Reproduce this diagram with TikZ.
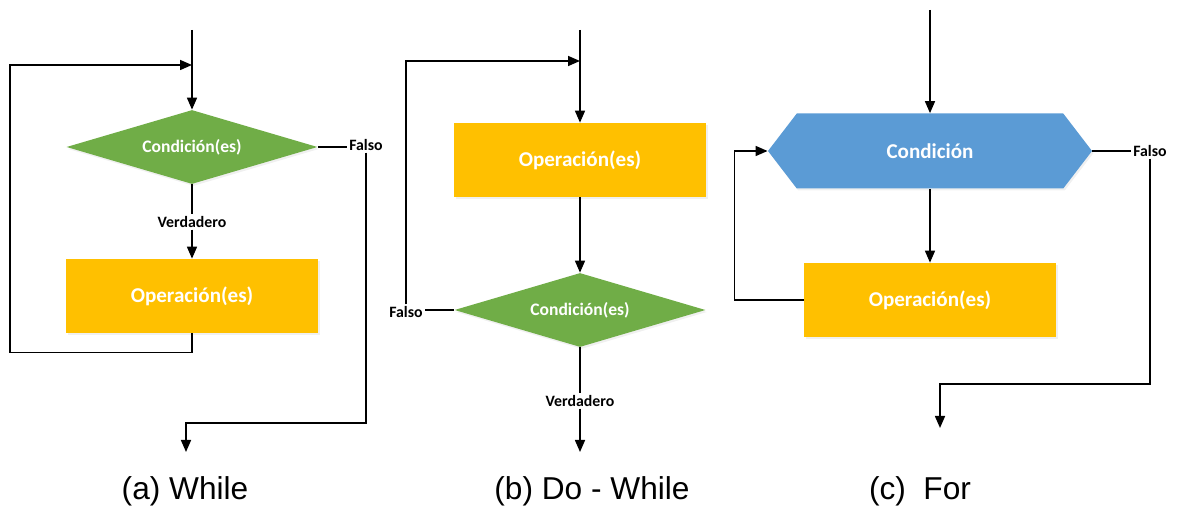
\documentclass[tikz,border=0pt]{standalone}
\usepackage{fontspec}
\setmainfont{Liberation Sans}
\newfontfamily\calibri{Carlito}
\usetikzlibrary{arrows.meta,shapes.geometric,shapes.symbols,shadows}
\definecolor{cgreen}{HTML}{70AD47}
\definecolor{cyellow}{HTML}{FFC000}
\definecolor{cblue}{HTML}{5B9BD5}
\tikzset{
  line/.style={line width=0.9pt},
  flow/.style={line width=0.9pt, -{Triangle[length=0.24cm,width=0.2cm]}},
  soft/.style={drop shadow={opacity=0.12, shadow xshift=0.03cm, shadow yshift=-0.04cm}},
  opbox/.style={rectangle, fill=cyellow, soft, minimum width=5.04cm, minimum height=1.48cm,
    text=white, font=\calibri\bfseries\fontsize{12}{14}\selectfont},
  cond/.style={diamond, aspect=3.39, fill=cgreen, soft, inner sep=0pt, minimum width=5.02cm, minimum height=1.48cm,
    text=white, font=\calibri\bfseries\fontsize{10}{12}\selectfont},
  hexa/.style={signal, signal to=east and west, signal pointer angle=105, fill=cblue, soft,
    minimum width=6.48cm, minimum height=1.5cm,
    text=white, font=\calibri\bfseries\fontsize{12}{14}\selectfont},
  tag/.style={inner sep=1pt, font=\calibri\bfseries\fontsize{9}{11}\selectfont},
  subcap/.style={font=\fontsize{18}{20}\selectfont}
}
\begin{document}
\begin{tikzpicture}
    \useasboundingbox (0,0) rectangle (23.58,10.16);
    % (a) while
    \begin{scope}
      \node[cond] (c1) at (3.84,7.22) {Condición(es)};
      \node[tag] (v1) at (3.84,5.72) {Verdadero};
      \node[opbox] (o1) at (3.84,4.24) {Operación(es)};
      \node[tag] (f1) at (7.32,7.26) {Falso};
      \coordinate (a1) at (3.84,9.56);
      \coordinate (j1) at (3.84,8.86);
      \coordinate (e1) at (3.72,1.12);
      \draw[flow] (a1) -- (c1.north);
      \draw[line] (c1.south) -- (v1.north);
      \draw[flow] (v1.south) -- (o1.north);
      \draw[flow] (o1.south) -- ++(0,-0.38) -| (0.2,8.86) -- (j1);
      \draw[line] (c1.east) -- (c1.east -| f1.west);
      \draw[flow] (f1.south) -- (f1.south |- 0,1.70) -| (e1);
      \node[subcap] (s1) at (3.7,0.34) {(a) While};
    \end{scope}
    % (b) do - while
    \begin{scope}
      \node[opbox] (o2) at (11.6,6.96) {Operación(es)};
      \node[cond] (c2) at (11.6,3.96) {Condición(es)};
      \node[tag] (f2) at (8.12,3.92) {Falso};
      \node[tag] (v2) at (11.6,2.14) {Verdadero};
      \coordinate (a2) at (11.6,9.56);
      \coordinate (j2) at (11.6,8.94);
      \coordinate (e2) at (11.6,1.12);
      \draw[flow] (a2) -- (o2.north);
      \draw[flow] (o2.south) -- (c2.north);
      \draw[line] (c2.west) -- (c2.west -| f2.east);
      \draw[flow] (f2.north) |- (j2);
      \draw[line] (c2.south) -- (v2.north);
      \draw[flow] (v2.south) -- (e2);
      \node[subcap] (s2) at (11.84,0.34) {(b) Do - While};
    \end{scope}
    % (c) for
    \begin{scope}
      \node[hexa] (c3) at (18.6,7.14) {Condición};
      \node[opbox] (o3) at (18.6,4.16) {Operación(es)};
      \node[tag] (f3) at (23.0,7.14) {Falso};
      \coordinate (a3) at (18.6,9.96);
      \coordinate (e3) at (18.8,1.6);
      \draw[flow] (a3) -- (c3.north);
      \draw[flow] (c3.south) -- (o3.north);
      \draw[flow] (o3.west) -- ++(-1.38,0) |- (c3.west);
      \draw[line] (c3.east) -- (f3.west);
      \draw[flow] (f3.south) -- (f3.south |- 0,2.48) -| (e3);
      \node[subcap] (s3) at (18.4,0.34) {(c) \ For};
    \end{scope}
\end{tikzpicture}
\end{document}
